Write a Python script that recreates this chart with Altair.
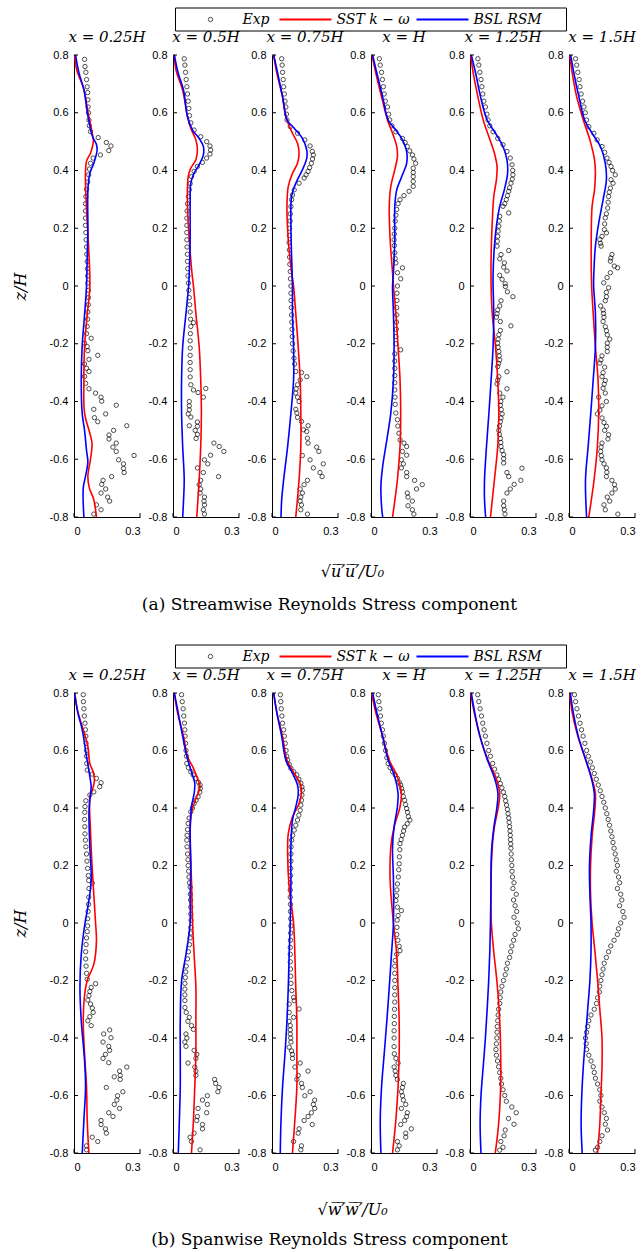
import altair as alt
import pandas as pd

SERIF = "DejaVu Serif"
SANS = "Liberation Sans"
STATIONS = ["x = 0.25H", "x = 0.5H", "x = 0.75H", "x = H", "x = 1.25H", "x = 1.5H"]
Z_TICKS = [0.8, 0.6, 0.4, 0.2, 0, -0.2, -0.4, -0.6, -0.8]
X_TICKS = [0, 0.3]
SERIES = ["Exp", "SST k − ω", "BSL RSM"]
X_TITLES = ["√u\u0305\u2032\u0305u\u0305\u2032\u0305/U\u2080", "√w\u0305\u2032\u0305w\u0305\u2032\u0305/U\u2080"]
CAPTIONS = ["(a)  Streamwise Reynolds Stress component", "(b)  Spanwise Reynolds Stress component"]

# ---------------- (a) streamwise: (z/H, value) ----------------
A025_SST = [(0.8,0.003),(0.75,0.012),(0.68,0.045),(0.6,0.064),(0.54,0.080),(0.505,0.088),(0.49,0.086),(0.46,0.075),(0.435,0.058),(0.39,0.052),(0.28,0.056),(0.14,0.066),(0.0,0.072),(-0.1,0.06),(-0.21,0.048),(-0.33,0.045),(-0.44,0.048),(-0.51,0.072),(-0.545,0.082),(-0.6,0.075),(-0.66,0.063),(-0.7,0.07),(-0.74,0.09),(-0.8,0.102)]
A025_BSL = [(0.8,0.007),(0.74,0.022),(0.68,0.045),(0.59,0.063),(0.52,0.083),(0.49,0.102),(0.47,0.105),(0.425,0.09),(0.39,0.072),(0.33,0.063),(0.2,0.063),(0.1,0.06),(0.0,0.057),(-0.1,0.048),(-0.21,0.037),(-0.33,0.033),(-0.44,0.037),(-0.5,0.048),(-0.57,0.057),(-0.61,0.063),(-0.66,0.052),(-0.7,0.042),(-0.8,0.045)]
A025_EXP = [(0.785,0.048),(0.76,0.05),(0.74,0.054),(0.715,0.057),(0.69,0.06),(0.67,0.062),(0.645,0.063),(0.62,0.064),(0.6,0.066),(0.575,0.068),(0.555,0.07),(0.535,0.075),(0.514,0.11),(0.497,0.147),(0.485,0.168),(0.469,0.158),(0.454,0.12),(0.443,0.087),(0.425,0.075),(0.405,0.07),(0.385,0.067),(0.36,0.062),(0.335,0.057),(0.31,0.054),(0.285,0.052),(0.26,0.052),(0.235,0.052),(0.21,0.052),(0.185,0.054),(0.16,0.055),(0.135,0.057),(0.11,0.058),(0.085,0.06),(0.06,0.061),(0.035,0.062),(0.01,0.063),(-0.015,0.066),(-0.04,0.066),(-0.065,0.065),(-0.09,0.063),(-0.115,0.062),(-0.14,0.06),(-0.165,0.057),(-0.181,0.078),(-0.198,0.048),(-0.21,0.06),(-0.224,0.063),(-0.24,0.108),(-0.254,0.068),(-0.27,0.048),(-0.285,0.057),(-0.296,0.068),(-0.313,0.048),(-0.337,0.053),(-0.356,0.068),(-0.371,0.098),(-0.385,0.123),(-0.399,0.126),(-0.413,0.192),(-0.427,0.09),(-0.443,0.144),(-0.456,0.093),(-0.47,0.108),(-0.484,0.24),(-0.5,0.18),(-0.516,0.159),(-0.53,0.159),(-0.544,0.192),(-0.558,0.177),(-0.573,0.192),(-0.587,0.273),(-0.602,0.203),(-0.616,0.225),(-0.632,0.225),(-0.646,0.228),(-0.66,0.171),(-0.673,0.132),(-0.687,0.126),(-0.703,0.144),(-0.717,0.123),(-0.731,0.153),(-0.745,0.162),(-0.758,0.102),(-0.775,0.123),(-0.79,0.09)]

A05_SST = [(0.8,0.006),(0.747,0.014),(0.678,0.044),(0.586,0.066),(0.546,0.081),(0.506,0.104),(0.471,0.111),(0.437,0.104),(0.408,0.081),(0.379,0.069),(0.276,0.066),(0.161,0.074),(0.046,0.086),(0.0,0.093),(-0.095,0.104),(-0.21,0.119),(-0.325,0.126),(-0.44,0.129),(-0.556,0.126),(-0.671,0.119),(-0.8,0.108)]
A05_BSL = [(0.8,0.006),(0.736,0.024),(0.678,0.048),(0.586,0.066),(0.54,0.089),(0.511,0.119),(0.483,0.138),(0.454,0.138),(0.42,0.119),(0.391,0.096),(0.356,0.081),(0.276,0.078),(0.161,0.078),(0.046,0.074),(0.0,0.071),(-0.095,0.059),(-0.21,0.044),(-0.325,0.039),(-0.44,0.039),(-0.556,0.044),(-0.671,0.051),(-0.74,0.048),(-0.8,0.044)]
A05_EXP = [(0.787,0.051),(0.765,0.054),(0.74,0.057),(0.715,0.06),(0.69,0.063),(0.665,0.066),(0.64,0.069),(0.615,0.072),(0.59,0.075),(0.565,0.081),(0.54,0.096),(0.517,0.126),(0.5,0.153),(0.485,0.168),(0.471,0.171),(0.457,0.168),(0.443,0.153),(0.428,0.134),(0.414,0.111),(0.397,0.096),(0.379,0.084),(0.355,0.078),(0.333,0.074),(0.31,0.07),(0.285,0.066),(0.26,0.064),(0.235,0.063),(0.21,0.063),(0.185,0.063),(0.16,0.063),(0.135,0.064),(0.11,0.065),(0.085,0.066),(0.06,0.067),(0.035,0.068),(0.01,0.07),(-0.015,0.072),(-0.04,0.074),(-0.065,0.076),(-0.09,0.078),(-0.115,0.08),(-0.127,0.093),(-0.14,0.081),(-0.165,0.079),(-0.19,0.078),(-0.215,0.078),(-0.24,0.078),(-0.265,0.078),(-0.29,0.078),(-0.315,0.078),(-0.342,0.081),(-0.355,0.149),(-0.36,0.093),(-0.369,0.114),(-0.385,0.138),(-0.4,0.074),(-0.415,0.074),(-0.429,0.074),(-0.443,0.069),(-0.454,0.081),(-0.471,0.111),(-0.484,0.074),(-0.486,0.111),(-0.5,0.101),(-0.514,0.111),(-0.528,0.105),(-0.544,0.186),(-0.556,0.21),(-0.573,0.231),(-0.586,0.171),(-0.602,0.143),(-0.616,0.158),(-0.63,0.111),(-0.646,0.138),(-0.66,0.207),(-0.673,0.126),(-0.688,0.119),(-0.703,0.126),(-0.717,0.123),(-0.731,0.143),(-0.745,0.141),(-0.758,0.143),(-0.775,0.138),(-0.79,0.143)]

A075_SST = [(0.8,0.0075),(0.736,0.0225),(0.655,0.048),(0.575,0.068),(0.529,0.093),(0.494,0.116),(0.46,0.123),(0.425,0.116),(0.39,0.093),(0.345,0.074),(0.276,0.068),(0.161,0.074),(0.046,0.089),(0.0,0.098),(-0.095,0.108),(-0.21,0.119),(-0.325,0.128),(-0.44,0.131),(-0.556,0.131),(-0.671,0.123),(-0.8,0.108)]
A075_BSL = [(0.8,0.0075),(0.736,0.026),(0.655,0.048),(0.575,0.068),(0.546,0.101),(0.511,0.138),(0.471,0.158),(0.443,0.158),(0.402,0.138),(0.356,0.108),(0.31,0.089),(0.218,0.086),(0.103,0.089),(0.0,0.093),(-0.095,0.093),(-0.21,0.098),(-0.325,0.098),(-0.44,0.086),(-0.556,0.071),(-0.671,0.053),(-0.74,0.044),(-0.8,0.041)]
A075_EXP = [(0.787,0.044),(0.765,0.046),(0.74,0.048),(0.715,0.051),(0.69,0.053),(0.665,0.056),(0.64,0.059),(0.62,0.063),(0.595,0.066),(0.575,0.068),(0.552,0.083),(0.529,0.116),(0.506,0.149),(0.485,0.173),(0.466,0.183),(0.454,0.188),(0.44,0.184),(0.425,0.179),(0.41,0.171),(0.397,0.164),(0.385,0.155),(0.374,0.146),(0.356,0.123),(0.333,0.101),(0.315,0.093),(0.299,0.089),(0.275,0.086),(0.25,0.083),(0.225,0.082),(0.2,0.08),(0.175,0.079),(0.15,0.078),(0.125,0.079),(0.1,0.08),(0.075,0.081),(0.05,0.083),(0.025,0.084),(0.0,0.086),(-0.025,0.086),(-0.05,0.087),(-0.075,0.088),(-0.1,0.089),(-0.125,0.09),(-0.15,0.091),(-0.175,0.092),(-0.2,0.093),(-0.225,0.096),(-0.25,0.1),(-0.27,0.103),(-0.296,0.108),(-0.3,0.134),(-0.314,0.158),(-0.325,0.128),(-0.342,0.116),(-0.356,0.11),(-0.371,0.108),(-0.385,0.116),(-0.4,0.123),(-0.427,0.108),(-0.44,0.113),(-0.455,0.116),(-0.469,0.134),(-0.484,0.164),(-0.498,0.143),(-0.504,0.158),(-0.527,0.161),(-0.544,0.164),(-0.558,0.203),(-0.573,0.213),(-0.587,0.138),(-0.602,0.173),(-0.616,0.233),(-0.63,0.188),(-0.646,0.218),(-0.66,0.228),(-0.673,0.161),(-0.688,0.146),(-0.703,0.128),(-0.717,0.138),(-0.731,0.131),(-0.745,0.128),(-0.758,0.134),(-0.775,0.131),(-0.79,0.161)]

A1_SST = [(0.8,0.0045),(0.736,0.0225),(0.655,0.048),(0.575,0.075),(0.529,0.098),(0.483,0.117),(0.448,0.12),(0.402,0.108),(0.345,0.09),(0.276,0.083),(0.161,0.087),(0.046,0.098),(0.0,0.102),(-0.095,0.113),(-0.21,0.123),(-0.325,0.132),(-0.44,0.135),(-0.556,0.132),(-0.671,0.12),(-0.8,0.098)]
A1_BSL = [(0.8,0.0075),(0.736,0.027),(0.655,0.053),(0.575,0.078),(0.54,0.113),(0.506,0.143),(0.466,0.162),(0.425,0.162),(0.385,0.143),(0.333,0.117),(0.276,0.108),(0.161,0.108),(0.046,0.102),(0.0,0.098),(-0.095,0.102),(-0.21,0.105),(-0.325,0.102),(-0.44,0.09),(-0.533,0.072),(-0.625,0.053),(-0.694,0.045),(-0.763,0.048),(-0.8,0.053)]
A1_EXP = [(0.787,0.038),(0.765,0.042),(0.74,0.048),(0.715,0.052),(0.69,0.056),(0.665,0.06),(0.64,0.065),(0.62,0.075),(0.595,0.08),(0.575,0.085),(0.555,0.095),(0.534,0.113),(0.511,0.143),(0.497,0.155),(0.483,0.165),(0.468,0.176),(0.454,0.188),(0.44,0.195),(0.425,0.203),(0.408,0.192),(0.393,0.192),(0.379,0.192),(0.362,0.192),(0.345,0.192),(0.328,0.173),(0.313,0.15),(0.299,0.132),(0.285,0.123),(0.265,0.117),(0.245,0.113),(0.225,0.11),(0.2,0.108),(0.18,0.106),(0.16,0.105),(0.14,0.106),(0.115,0.108),(0.095,0.11),(0.08,0.113),(0.063,0.143),(0.046,0.12),(0.025,0.135),(0.0,0.12),(-0.025,0.118),(-0.05,0.118),(-0.075,0.117),(-0.1,0.117),(-0.125,0.116),(-0.15,0.115),(-0.175,0.113),(-0.2,0.113),(-0.221,0.135),(-0.235,0.108),(-0.26,0.108),(-0.285,0.108),(-0.31,0.108),(-0.335,0.108),(-0.36,0.108),(-0.385,0.109),(-0.41,0.11),(-0.44,0.113),(-0.463,0.12),(-0.485,0.122),(-0.51,0.127),(-0.533,0.132),(-0.544,0.15),(-0.556,0.162),(-0.573,0.143),(-0.586,0.162),(-0.602,0.138),(-0.616,0.147),(-0.63,0.138),(-0.646,0.162),(-0.66,0.162),(-0.673,0.198),(-0.688,0.233),(-0.703,0.207),(-0.717,0.165),(-0.731,0.168),(-0.745,0.188),(-0.761,0.168),(-0.775,0.188),(-0.79,0.195)]

A125_SST = [(0.8,0.003),(0.736,0.015),(0.655,0.036),(0.575,0.06),(0.517,0.086),(0.46,0.111),(0.414,0.123),(0.368,0.12),(0.31,0.108),(0.218,0.101),(0.103,0.096),(0.0,0.096),(-0.095,0.101),(-0.21,0.116),(-0.325,0.126),(-0.44,0.131),(-0.556,0.126),(-0.671,0.111),(-0.8,0.093)]
A125_BSL = [(0.8,0.006),(0.736,0.026),(0.655,0.048),(0.575,0.078),(0.529,0.116),(0.483,0.15),(0.437,0.168),(0.391,0.171),(0.333,0.156),(0.276,0.135),(0.207,0.12),(0.138,0.111),(0.046,0.105),(0.0,0.105),(-0.095,0.108),(-0.21,0.105),(-0.325,0.096),(-0.44,0.086),(-0.556,0.075),(-0.671,0.066),(-0.74,0.066),(-0.8,0.071)]
A125_EXP = [(0.787,0.036),(0.765,0.04),(0.74,0.045),(0.715,0.05),(0.69,0.054),(0.665,0.058),(0.64,0.063),(0.62,0.07),(0.595,0.077),(0.575,0.082),(0.555,0.09),(0.534,0.105),(0.511,0.126),(0.489,0.15),(0.466,0.168),(0.443,0.183),(0.42,0.191),(0.4,0.194),(0.385,0.195),(0.37,0.192),(0.356,0.186),(0.34,0.18),(0.328,0.176),(0.313,0.17),(0.299,0.165),(0.285,0.158),(0.276,0.15),(0.253,0.176),(0.241,0.135),(0.225,0.133),(0.207,0.131),(0.19,0.128),(0.172,0.126),(0.155,0.124),(0.138,0.123),(0.123,0.176),(0.109,0.141),(0.094,0.135),(0.08,0.156),(0.065,0.153),(0.052,0.168),(0.037,0.135),(0.023,0.146),(0.008,0.16),(-0.002,0.161),(-0.02,0.17),(-0.037,0.195),(-0.051,0.141),(-0.069,0.135),(-0.083,0.126),(-0.096,0.123),(-0.108,0.12),(-0.123,0.138),(-0.138,0.186),(-0.154,0.138),(-0.169,0.131),(-0.184,0.128),(-0.198,0.126),(-0.212,0.128),(-0.227,0.131),(-0.242,0.133),(-0.256,0.135),(-0.268,0.13),(-0.279,0.126),(-0.297,0.168),(-0.314,0.131),(-0.326,0.126),(-0.339,0.123),(-0.356,0.168),(-0.371,0.135),(-0.385,0.15),(-0.4,0.14),(-0.413,0.138),(-0.428,0.142),(-0.443,0.146),(-0.457,0.141),(-0.47,0.138),(-0.485,0.134),(-0.5,0.131),(-0.514,0.134),(-0.528,0.138),(-0.542,0.14),(-0.556,0.141),(-0.57,0.146),(-0.584,0.153),(-0.598,0.153),(-0.613,0.153),(-0.631,0.236),(-0.646,0.168),(-0.66,0.176),(-0.673,0.231),(-0.687,0.201),(-0.703,0.183),(-0.717,0.168),(-0.745,0.153),(-0.761,0.153),(-0.775,0.156),(-0.79,0.159)]

A15_SST = [(0.8,0.003),(0.736,0.015),(0.655,0.035),(0.575,0.065),(0.506,0.095),(0.437,0.116),(0.391,0.12),(0.333,0.116),(0.276,0.105),(0.161,0.101),(0.0,0.103),(-0.095,0.11),(-0.21,0.12),(-0.325,0.132),(-0.44,0.135),(-0.556,0.129),(-0.671,0.114),(-0.8,0.09)]
A15_BSL = [(0.8,0.0075),(0.736,0.0225),(0.655,0.045),(0.575,0.071),(0.529,0.105),(0.483,0.143),(0.425,0.165),(0.368,0.17),(0.299,0.155),(0.218,0.135),(0.138,0.12),(0.046,0.113),(0.0,0.112),(-0.095,0.12),(-0.21,0.12),(-0.325,0.11),(-0.44,0.099),(-0.556,0.087),(-0.671,0.075),(-0.8,0.08)]
A15_EXP = [(0.787,0.03),(0.765,0.035),(0.74,0.04),(0.715,0.046),(0.69,0.05),(0.665,0.055),(0.64,0.062),(0.62,0.068),(0.6,0.074),(0.575,0.08),(0.552,0.09),(0.529,0.113),(0.506,0.128),(0.483,0.15),(0.463,0.162),(0.443,0.173),(0.428,0.182),(0.414,0.191),(0.4,0.198),(0.385,0.21),(0.368,0.191),(0.356,0.2),(0.339,0.188),(0.325,0.183),(0.31,0.18),(0.29,0.178),(0.27,0.176),(0.25,0.17),(0.236,0.165),(0.215,0.162),(0.195,0.161),(0.184,0.17),(0.172,0.15),(0.161,0.14),(0.148,0.143),(0.138,0.146),(0.109,0.195),(0.097,0.19),(0.086,0.188),(0.069,0.206),(0.063,0.221),(0.046,0.188),(0.029,0.173),(0.011,0.158),(-0.006,0.18),(-0.022,0.17),(-0.037,0.17),(-0.051,0.165),(-0.069,0.144),(-0.083,0.155),(-0.095,0.157),(-0.108,0.159),(-0.123,0.155),(-0.141,0.165),(-0.155,0.17),(-0.169,0.174),(-0.184,0.185),(-0.198,0.174),(-0.212,0.174),(-0.227,0.174),(-0.242,0.15),(-0.256,0.145),(-0.267,0.14),(-0.281,0.162),(-0.3,0.155),(-0.314,0.15),(-0.327,0.165),(-0.34,0.16),(-0.354,0.155),(-0.371,0.165),(-0.385,0.135),(-0.4,0.17),(-0.415,0.15),(-0.43,0.14),(-0.443,0.129),(-0.457,0.15),(-0.473,0.159),(-0.486,0.17),(-0.5,0.162),(-0.515,0.18),(-0.53,0.177),(-0.544,0.15),(-0.558,0.146),(-0.573,0.144),(-0.588,0.147),(-0.602,0.15),(-0.616,0.159),(-0.63,0.17),(-0.645,0.172),(-0.66,0.17),(-0.673,0.195),(-0.688,0.207),(-0.703,0.21),(-0.717,0.195),(-0.731,0.174),(-0.745,0.185),(-0.758,0.159),(-0.775,0.165),(-0.79,0.222)]

# ---------------- (b) spanwise: (z/H, value) ----------------
B025_SST = [(0.8,0.003),(0.742,0.015),(0.672,0.042),(0.614,0.063),(0.555,0.072),(0.526,0.087),(0.497,0.093),(0.462,0.083),(0.439,0.072),(0.323,0.075),(0.2,0.082),(0.1,0.09),(0.0,0.098),(-0.063,0.102),(-0.144,0.09),(-0.2,0.06),(-0.259,0.047),(-0.34,0.042),(-0.455,0.048),(-0.57,0.057),(-0.685,0.06),(-0.8,0.0675)]
B025_BSL = [(0.8,0.003),(0.73,0.018),(0.672,0.0375),(0.579,0.057),(0.509,0.072),(0.474,0.078),(0.427,0.072),(0.381,0.068),(0.264,0.072),(0.148,0.078),(0.055,0.063),(0.0,0.05),(-0.109,0.033),(-0.224,0.027),(-0.34,0.033),(-0.478,0.048),(-0.57,0.0525),(-0.685,0.045),(-0.8,0.0375)]
B025_EXP = [(0.794,0.042),(0.77,0.043),(0.745,0.045),(0.72,0.047),(0.695,0.05),(0.672,0.052),(0.65,0.054),(0.625,0.055),(0.6,0.057),(0.58,0.057),(0.555,0.058),(0.532,0.06),(0.518,0.083),(0.503,0.102),(0.488,0.123),(0.474,0.117),(0.456,0.09),(0.445,0.072),(0.425,0.054),(0.405,0.05),(0.385,0.049),(0.36,0.048),(0.335,0.049),(0.31,0.05),(0.288,0.052),(0.265,0.054),(0.24,0.057),(0.215,0.059),(0.19,0.062),(0.165,0.065),(0.148,0.067),(0.139,0.083),(0.12,0.068),(0.09,0.067),(0.065,0.066),(0.04,0.064),(0.015,0.062),(-0.01,0.062),(-0.03,0.06),(-0.052,0.057),(-0.075,0.055),(-0.1,0.053),(-0.125,0.053),(-0.15,0.055),(-0.175,0.057),(-0.196,0.06),(-0.211,0.098),(-0.224,0.078),(-0.238,0.072),(-0.253,0.068),(-0.268,0.063),(-0.282,0.075),(-0.296,0.083),(-0.311,0.087),(-0.326,0.072),(-0.34,0.063),(-0.357,0.078),(-0.372,0.162),(-0.386,0.135),(-0.399,0.168),(-0.414,0.132),(-0.429,0.158),(-0.443,0.162),(-0.457,0.143),(-0.471,0.132),(-0.486,0.158),(-0.501,0.24),(-0.515,0.207),(-0.53,0.21),(-0.535,0.183),(-0.544,0.21),(-0.572,0.147),(-0.587,0.222),(-0.601,0.198),(-0.616,0.195),(-0.631,0.183),(-0.645,0.207),(-0.66,0.158),(-0.673,0.177),(-0.687,0.123),(-0.701,0.123),(-0.716,0.143),(-0.731,0.147),(-0.745,0.083),(-0.76,0.108),(-0.775,0.057),(-0.789,0.057)]

B05_SST = [(0.8,0.006),(0.73,0.021),(0.649,0.048),(0.579,0.066),(0.538,0.093),(0.497,0.114),(0.474,0.123),(0.445,0.111),(0.41,0.093),(0.369,0.081),(0.264,0.078),(0.148,0.084),(0.0,0.089),(-0.109,0.096),(-0.224,0.104),(-0.34,0.104),(-0.455,0.104),(-0.57,0.099),(-0.685,0.093),(-0.8,0.084)]
B05_BSL = [(0.8,0.006),(0.73,0.024),(0.649,0.044),(0.579,0.063),(0.526,0.084),(0.486,0.099),(0.451,0.096),(0.404,0.084),(0.323,0.078),(0.206,0.081),(0.09,0.078),(0.0,0.078),(-0.109,0.059),(-0.201,0.039),(-0.34,0.033),(-0.455,0.033),(-0.57,0.033),(-0.685,0.029),(-0.8,0.024)]
B05_EXP = [(0.794,0.039),(0.77,0.042),(0.745,0.046),(0.72,0.049),(0.695,0.052),(0.672,0.054),(0.65,0.055),(0.625,0.057),(0.6,0.059),(0.58,0.061),(0.555,0.063),(0.54,0.07),(0.526,0.081),(0.515,0.092),(0.503,0.104),(0.49,0.115),(0.48,0.123),(0.468,0.124),(0.455,0.122),(0.439,0.114),(0.427,0.105),(0.416,0.096),(0.4,0.088),(0.387,0.081),(0.365,0.073),(0.346,0.069),(0.325,0.066),(0.305,0.064),(0.288,0.063),(0.265,0.064),(0.24,0.066),(0.22,0.068),(0.2,0.069),(0.18,0.071),(0.16,0.073),(0.14,0.075),(0.125,0.078),(0.1,0.079),(0.08,0.08),(0.055,0.081),(0.031,0.081),(0.01,0.082),(-0.015,0.081),(-0.035,0.08),(-0.052,0.078),(-0.075,0.075),(-0.1,0.07),(-0.125,0.066),(-0.15,0.06),(-0.17,0.058),(-0.19,0.056),(-0.21,0.054),(-0.23,0.054),(-0.25,0.054),(-0.27,0.054),(-0.294,0.054),(-0.311,0.06),(-0.328,0.074),(-0.342,0.068),(-0.357,0.084),(-0.37,0.093),(-0.386,0.059),(-0.4,0.063),(-0.414,0.054),(-0.429,0.059),(-0.443,0.096),(-0.457,0.108),(-0.471,0.104),(-0.487,0.068),(-0.501,0.099),(-0.515,0.104),(-0.53,0.104),(-0.544,0.189),(-0.558,0.194),(-0.572,0.209),(-0.587,0.204),(-0.601,0.156),(-0.616,0.134),(-0.631,0.156),(-0.645,0.114),(-0.66,0.153),(-0.673,0.111),(-0.687,0.108),(-0.701,0.134),(-0.716,0.134),(-0.731,0.096),(-0.745,0.078),(-0.76,0.084),(-0.789,0.123)]

B075_SST = [(0.8,0.0075),(0.73,0.0225),(0.649,0.048),(0.567,0.068),(0.521,0.101),(0.486,0.128),(0.451,0.134),(0.416,0.123),(0.369,0.093),(0.311,0.074),(0.241,0.071),(0.125,0.078),(0.0,0.098),(-0.109,0.104),(-0.224,0.108),(-0.34,0.113),(-0.455,0.113),(-0.57,0.113),(-0.685,0.104),(-0.8,0.093)]
B075_BSL = [(0.8,0.0075),(0.73,0.0225),(0.649,0.044),(0.567,0.063),(0.521,0.093),(0.48,0.116),(0.445,0.119),(0.404,0.108),(0.358,0.093),(0.264,0.086),(0.125,0.086),(0.0,0.083),(-0.109,0.078),(-0.224,0.074),(-0.34,0.068),(-0.455,0.059),(-0.57,0.048),(-0.685,0.041),(-0.8,0.0375)]
B075_EXP = [(0.794,0.038),(0.77,0.04),(0.745,0.042),(0.72,0.045),(0.695,0.048),(0.672,0.053),(0.65,0.056),(0.625,0.06),(0.6,0.064),(0.58,0.067),(0.567,0.071),(0.552,0.078),(0.538,0.086),(0.526,0.099),(0.515,0.113),(0.5,0.122),(0.486,0.131),(0.473,0.136),(0.462,0.138),(0.445,0.136),(0.427,0.134),(0.41,0.131),(0.392,0.128),(0.375,0.122),(0.358,0.116),(0.34,0.108),(0.323,0.101),(0.305,0.094),(0.288,0.089),(0.265,0.087),(0.24,0.086),(0.215,0.086),(0.19,0.085),(0.165,0.084),(0.14,0.083),(0.115,0.083),(0.09,0.083),(0.065,0.084),(0.04,0.084),(0.015,0.085),(-0.01,0.086),(-0.035,0.085),(-0.06,0.084),(-0.085,0.083),(-0.109,0.083),(-0.135,0.083),(-0.16,0.084),(-0.185,0.085),(-0.21,0.086),(-0.235,0.09),(-0.259,0.098),(-0.27,0.101),(-0.282,0.078),(-0.299,0.123),(-0.311,0.078),(-0.328,0.098),(-0.342,0.078),(-0.357,0.083),(-0.372,0.083),(-0.386,0.083),(-0.4,0.085),(-0.414,0.086),(-0.432,0.078),(-0.445,0.089),(-0.457,0.093),(-0.471,0.093),(-0.487,0.128),(-0.501,0.104),(-0.515,0.164),(-0.53,0.119),(-0.544,0.113),(-0.558,0.134),(-0.572,0.138),(-0.587,0.173),(-0.601,0.149),(-0.616,0.194),(-0.631,0.188),(-0.645,0.194),(-0.66,0.179),(-0.673,0.164),(-0.687,0.146),(-0.701,0.183),(-0.716,0.123),(-0.731,0.119),(-0.76,0.098),(-0.775,0.134),(-0.789,0.131)]

B1_SST = [(0.8,0.003),(0.73,0.0225),(0.649,0.053),(0.567,0.083),(0.509,0.12),(0.451,0.138),(0.404,0.132),(0.334,0.105),(0.264,0.09),(0.148,0.087),(0.0,0.102),(-0.109,0.117),(-0.224,0.123),(-0.34,0.128),(-0.455,0.128),(-0.57,0.123),(-0.685,0.113),(-0.8,0.098)]
B1_BSL = [(0.8,0.0075),(0.73,0.027),(0.649,0.053),(0.567,0.078),(0.509,0.108),(0.451,0.123),(0.404,0.12),(0.334,0.105),(0.264,0.098),(0.148,0.102),(0.0,0.102),(-0.109,0.093),(-0.224,0.083),(-0.34,0.072),(-0.455,0.06),(-0.57,0.048),(-0.685,0.042),(-0.8,0.045)]
B1_EXP = [(0.794,0.033),(0.77,0.036),(0.745,0.04),(0.72,0.043),(0.695,0.047),(0.672,0.052),(0.65,0.056),(0.625,0.061),(0.6,0.066),(0.575,0.072),(0.555,0.078),(0.54,0.087),(0.526,0.098),(0.515,0.11),(0.503,0.12),(0.49,0.128),(0.48,0.135),(0.468,0.139),(0.456,0.143),(0.44,0.147),(0.427,0.153),(0.412,0.157),(0.398,0.162),(0.385,0.166),(0.37,0.17),(0.358,0.177),(0.345,0.165),(0.334,0.153),(0.32,0.148),(0.305,0.143),(0.29,0.137),(0.276,0.132),(0.255,0.131),(0.23,0.129),(0.206,0.128),(0.185,0.126),(0.16,0.124),(0.136,0.12),(0.115,0.118),(0.095,0.116),(0.078,0.113),(0.055,0.12),(0.043,0.138),(0.026,0.123),(0.01,0.119),(-0.015,0.118),(-0.04,0.117),(-0.06,0.122),(-0.081,0.128),(-0.096,0.132),(-0.109,0.117),(-0.13,0.11),(-0.15,0.108),(-0.175,0.108),(-0.2,0.108),(-0.225,0.108),(-0.25,0.108),(-0.275,0.108),(-0.3,0.107),(-0.325,0.106),(-0.35,0.106),(-0.375,0.105),(-0.4,0.105),(-0.43,0.105),(-0.455,0.106),(-0.471,0.113),(-0.487,0.123),(-0.501,0.105),(-0.515,0.11),(-0.53,0.113),(-0.544,0.12),(-0.558,0.147),(-0.572,0.143),(-0.587,0.138),(-0.601,0.143),(-0.616,0.147),(-0.631,0.158),(-0.645,0.138),(-0.66,0.165),(-0.673,0.162),(-0.687,0.153),(-0.701,0.135),(-0.716,0.183),(-0.731,0.158),(-0.745,0.158),(-0.76,0.12),(-0.775,0.128),(-0.789,0.12)]

B125_SST = [(0.8,0.003),(0.73,0.02),(0.65,0.045),(0.57,0.08),(0.5,0.12),(0.45,0.135),(0.4,0.128),(0.33,0.11),(0.25,0.1),(0.1,0.095),(0.0,0.097),(-0.1,0.108),(-0.2,0.122),(-0.3,0.132),(-0.4,0.138),(-0.5,0.14),(-0.6,0.138),(-0.7,0.13),(-0.8,0.115)]
B125_BSL = [(0.8,0.006),(0.73,0.022),(0.65,0.045),(0.57,0.078),(0.5,0.113),(0.45,0.127),(0.4,0.122),(0.33,0.108),(0.25,0.098),(0.1,0.095),(0.0,0.093),(-0.1,0.09),(-0.2,0.085),(-0.3,0.078),(-0.4,0.07),(-0.5,0.06),(-0.6,0.05),(-0.7,0.046),(-0.8,0.05)]
B125_EXP = [(0.794,0.035),(0.77,0.04),(0.745,0.046),(0.72,0.052),(0.695,0.058),(0.672,0.064),(0.65,0.07),(0.625,0.077),(0.6,0.085),(0.58,0.093),(0.555,0.103),(0.535,0.112),(0.515,0.122),(0.5,0.13),(0.485,0.138),(0.47,0.145),(0.455,0.152),(0.44,0.158),(0.425,0.162),(0.41,0.166),(0.395,0.17),(0.38,0.173),(0.365,0.176),(0.35,0.178),(0.335,0.18),(0.32,0.182),(0.305,0.183),(0.29,0.184),(0.275,0.185),(0.26,0.186),(0.24,0.187),(0.22,0.188),(0.2,0.19),(0.18,0.191),(0.16,0.193),(0.14,0.2),(0.12,0.195),(0.1,0.21),(0.08,0.198),(0.06,0.205),(0.04,0.212),(0.02,0.2),(0.0,0.215),(-0.02,0.22),(-0.04,0.205),(-0.06,0.198),(-0.08,0.19),(-0.1,0.185),(-0.12,0.18),(-0.14,0.17),(-0.16,0.165),(-0.18,0.16),(-0.2,0.152),(-0.22,0.145),(-0.24,0.14),(-0.26,0.137),(-0.28,0.135),(-0.3,0.13),(-0.32,0.128),(-0.34,0.126),(-0.36,0.124),(-0.38,0.123),(-0.4,0.122),(-0.42,0.12),(-0.44,0.118),(-0.46,0.12),(-0.48,0.125),(-0.5,0.13),(-0.52,0.135),(-0.54,0.14),(-0.56,0.143),(-0.58,0.15),(-0.6,0.158),(-0.62,0.165),(-0.64,0.19),(-0.66,0.21),(-0.68,0.175),(-0.7,0.2),(-0.72,0.16),(-0.74,0.155),(-0.76,0.14),(-0.78,0.15),(-0.79,0.135)]

B15_SST = [(0.8,0.003),(0.73,0.015),(0.65,0.04),(0.57,0.075),(0.5,0.105),(0.45,0.12),(0.4,0.118),(0.3,0.105),(0.2,0.098),(0.1,0.098),(0.0,0.105),(-0.1,0.118),(-0.2,0.13),(-0.3,0.14),(-0.4,0.15),(-0.5,0.15),(-0.6,0.145),(-0.7,0.14),(-0.8,0.13)]
B15_BSL = [(0.8,0.006),(0.73,0.02),(0.65,0.042),(0.57,0.075),(0.5,0.103),(0.45,0.115),(0.4,0.113),(0.3,0.1),(0.2,0.093),(0.1,0.095),(0.0,0.1),(-0.1,0.1),(-0.2,0.095),(-0.3,0.085),(-0.4,0.075),(-0.5,0.065),(-0.6,0.058),(-0.7,0.055),(-0.8,0.06)]
B15_EXP = [(0.794,0.025),(0.77,0.03),(0.745,0.036),(0.72,0.043),(0.695,0.05),(0.672,0.057),(0.65,0.064),(0.625,0.072),(0.6,0.08),(0.58,0.088),(0.56,0.097),(0.54,0.106),(0.52,0.115),(0.5,0.124),(0.48,0.133),(0.46,0.142),(0.44,0.15),(0.42,0.158),(0.4,0.165),(0.38,0.172),(0.36,0.178),(0.34,0.184),(0.32,0.19),(0.3,0.195),(0.28,0.2),(0.26,0.205),(0.24,0.21),(0.22,0.215),(0.2,0.22),(0.18,0.215),(0.16,0.225),(0.14,0.23),(0.12,0.22),(0.1,0.235),(0.08,0.24),(0.06,0.23),(0.04,0.245),(0.02,0.25),(0.0,0.235),(-0.02,0.225),(-0.04,0.22),(-0.06,0.205),(-0.08,0.19),(-0.1,0.18),(-0.12,0.17),(-0.14,0.16),(-0.16,0.155),(-0.18,0.15),(-0.2,0.145),(-0.22,0.14),(-0.24,0.138),(-0.26,0.13),(-0.28,0.125),(-0.3,0.115),(-0.32,0.1),(-0.34,0.09),(-0.36,0.085),(-0.38,0.08),(-0.4,0.075),(-0.42,0.078),(-0.44,0.08),(-0.46,0.09),(-0.48,0.1),(-0.5,0.11),(-0.52,0.115),(-0.54,0.12),(-0.56,0.13),(-0.58,0.14),(-0.6,0.145),(-0.62,0.14),(-0.64,0.15),(-0.66,0.16),(-0.68,0.17),(-0.7,0.165),(-0.72,0.175),(-0.74,0.15),(-0.76,0.14),(-0.78,0.13),(-0.79,0.12)]

PART_A = [(A025_EXP, A025_SST, A025_BSL), (A05_EXP, A05_SST, A05_BSL), (A075_EXP, A075_SST, A075_BSL),
          (A1_EXP, A1_SST, A1_BSL), (A125_EXP, A125_SST, A125_BSL), (A15_EXP, A15_SST, A15_BSL)]
PART_B = [(B025_EXP, B025_SST, B025_BSL), (B05_EXP, B05_SST, B05_BSL), (B075_EXP, B075_SST, B075_BSL),
          (B1_EXP, B1_SST, B1_BSL), (B125_EXP, B125_SST, B125_BSL), (B15_EXP, B15_SST, B15_BSL)]

PANEL_W = 66
GAP = 33
LEFT = 73.5
MARK = dict(shape="circle", filled=False, size=19, color="black", strokeWidth=1)


def to_df(pairs):
    return pd.DataFrame({"i": list(range(len(pairs))),
                         "z": [p[0] for p in pairs],
                         "v": [p[1] for p in pairs]})


def panel(exp, sst, bsl, title, height, first):
    xscale = alt.Scale(domain=[0, 0.3], nice=False, zero=False)
    yscale = alt.Scale(domain=[-0.8, 0.8], nice=False, zero=False)
    xax = alt.Axis(values=X_TICKS, ticks=False, grid=False, labelPadding=8,
                   labelExpr="datum.value == 0 ? '0' : format(datum.value, '.1f')")
    yargs = dict(values=Z_TICKS, ticks=False, grid=False, labelPadding=6,
                 labelExpr="datum.value == 0 ? '0' : (datum.value < 0 ? '-' : '') + format(abs(datum.value), '.1f')")
    if first:
        yargs.update(title="z/H", titleFont=SERIF, titleFontStyle="italic", titleFontWeight="normal",
                     titleFontSize=16, titlePadding=21)
    else:
        yargs.update(title="")
    yax = alt.Axis(**yargs)
    X = alt.X("v:Q", scale=xscale, axis=xax, title="")
    Y = alt.Y("z:Q", scale=yscale, axis=yax)

    pts = alt.Chart(to_df(exp)).mark_point(**MARK).encode(x=X, y=Y)
    l1 = alt.Chart(to_df(sst)).mark_line(color="#ff0000", strokeWidth=1.6, interpolate="catmull-rom").encode(
        x=X, y=Y, order="i:Q")
    l2 = alt.Chart(to_df(bsl)).mark_line(color="#0000ff", strokeWidth=1.6, interpolate="catmull-rom").encode(
        x=X, y=Y, order="i:Q")
    yt = alt.Chart(pd.DataFrame({"z": Z_TICKS})).mark_rule(color="black", strokeWidth=1).encode(
        y=Y, x=alt.value(0), x2=alt.value(4))
    xt = alt.Chart(pd.DataFrame({"v": X_TICKS})).mark_rule(color="black", strokeWidth=1).encode(
        x=X, y=alt.value(height), y2=alt.value(height - 4))
    return alt.layer(pts, l1, l2, yt, xt).properties(
        width=PANEL_W, height=height,
        title=alt.TitleParams(title, font=SERIF, fontStyle="italic", fontWeight="normal",
                              fontSize=15, offset=4, color="black"))


def blank(height):
    return alt.Chart(pd.DataFrame({"k": [0]})).mark_point(opacity=0, size=1).encode(
        x=alt.value(20), y=alt.value(20)).properties(width=PANEL_W, height=height)


def legend_view(height, y0, anchor):
    base = alt.Chart(pd.DataFrame({"k": [0]}))
    yc = y0 + 11.5
    layers = []
    if anchor:
        # invisible spacer fixing the left edge of the page
        layers.append(base.mark_rect(opacity=0).encode(
            x=alt.value(-LEFT), x2=alt.value(0), y=alt.value(0), y2=alt.value(4)))
    box = base.mark_rect(fill="white", fillOpacity=0, stroke="black", strokeWidth=1).encode(
        x=alt.value(101.5), x2=alt.value(492.5), y=alt.value(y0), y2=alt.value(y0 + 23))
    dot = base.mark_point(**MARK).encode(x=alt.value(136.5), y=alt.value(yc))
    r1 = base.mark_rule(color="#ff0000", strokeWidth=2).encode(x=alt.value(205.5), x2=alt.value(257.5), y=alt.value(yc))
    r2 = base.mark_rule(color="#0000ff", strokeWidth=2).encode(x=alt.value(342.5), x2=alt.value(394.5), y=alt.value(yc))
    tstyle = dict(align="left", baseline="middle", font=SERIF, fontStyle="italic", fontSize=14, color="black")
    t1 = base.mark_text(**tstyle).encode(x=alt.value(168.5), y=alt.value(yc), text=alt.value(SERIES[0]))
    t2 = base.mark_text(**tstyle).encode(x=alt.value(262.5), y=alt.value(yc), text=alt.value(SERIES[1]))
    t3 = base.mark_text(**tstyle).encode(x=alt.value(399.5), y=alt.value(yc), text=alt.value(SERIES[2]))
    layers += [box, dot, r1, r2, t1, t2, t3]
    return alt.layer(*layers).properties(width=PANEL_W, height=height)


def caption_view(height, xt, cap, y_xt, y_cap):
    base = alt.Chart(pd.DataFrame({"k": [0]}))
    t1 = base.mark_text(align="center", baseline="middle", font=SERIF, fontStyle="italic", fontSize=16,
                        color="black").encode(x=alt.value(278.5), y=alt.value(y_xt), text=alt.value(xt))
    t2 = base.mark_text(align="center", baseline="middle", font=SERIF, fontSize=17,
                        color="black").encode(x=alt.value(255.5), y=alt.value(y_cap), text=alt.value(cap))
    return alt.layer(t1, t2).properties(width=PANEL_W, height=height)


cells = []
cells += [legend_view(55, 8, True)] + [blank(55) for _ in range(5)]
cells += [panel(d[0], d[1], d[2], STATIONS[k], 462, k == 0) for k, d in enumerate(PART_A)]
cells += [caption_view(128, X_TITLES[0], CAPTIONS[0], 55, 88)] + [blank(128) for _ in range(5)]
cells += [legend_view(48, 0, False)] + [blank(48) for _ in range(5)]
cells += [panel(d[0], d[1], d[2], STATIONS[k], 460, k == 0) for k, d in enumerate(PART_B)]
cells += [caption_view(99, X_TITLES[1], CAPTIONS[1], 57, 87)] + [blank(99) for _ in range(5)]

chart = alt.concat(*cells, columns=6, spacing={"row": 0, "column": GAP}, bounds="flush").resolve_scale(
    x="independent", y="independent"
).properties(
    padding=0,
    background="white",
).configure_view(strokeWidth=0).configure_axis(
    domainColor="black", domainWidth=1, labelColor="black", labelFont=SANS, labelFontSize=11,
    titleColor="black",
)

chart.save("out.html", embed_options={"renderer": "svg", "actions": False})
